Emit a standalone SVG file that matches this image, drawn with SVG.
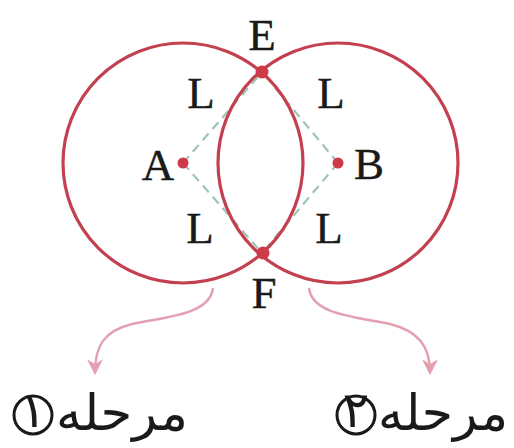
<svg xmlns="http://www.w3.org/2000/svg" width="514" height="448" viewBox="0 0 514 448">
<style>
.circ{fill:none;stroke:#c2404f;stroke-width:3.2}
.dash{stroke:#9fc4b4;stroke-width:2.2;stroke-dasharray:9 6;fill:none}
.pt{fill:#cf3a48}
.lbl{font-family:"Liberation Serif","Times New Roman",serif;font-size:45px;fill:#1a1a1a;stroke:#1a1a1a;stroke-width:0.4;text-anchor:middle}
.arr{fill:none;stroke:#e3a0b1;stroke-width:2.4}
.fa{font-family:"DejaVu Sans","Noto Sans",sans-serif;font-size:50px;fill:#1a1a1a}
.num{fill:none;stroke:#1a1a1a;stroke-width:3}
</style>
<defs>
<marker id="ah" viewBox="0 0 10 10" refX="8" refY="5" markerWidth="20" markerHeight="16" orient="auto" markerUnits="userSpaceOnUse">
<path d="M0,0 L10,5 L0,10 L3,5 Z" fill="#e3a0b1"/>
</marker>
</defs>
<rect width="514" height="448" fill="#ffffff"/>
<g id="connectors">
<line class="dash" x1="183" y1="163" x2="262" y2="72"/>
<line class="dash" x1="183" y1="163" x2="262" y2="253"/>
<line class="dash" x1="338" y1="163" x2="262" y2="72"/>
<line class="dash" x1="338" y1="163" x2="262" y2="253"/>
<path class="arr" d="M213,288 C210,315 165,317 132,324 C104,331 95,346 95,372" marker-end="url(#ah)"/>
<path class="arr" d="M309,288 C312,315 357,317 390,324 C418,331 430,346 430,372" marker-end="url(#ah)"/>
</g>
<g id="circleA"><circle class="circ" cx="183" cy="163" r="120"/></g>
<g id="circleB"><circle class="circ" cx="338" cy="163" r="120"/></g>
<g id="nodeA"><circle class="pt" cx="183" cy="163" r="5.5"/><text class="lbl" x="158" y="180">A</text></g>
<g id="nodeB"><circle class="pt" cx="338" cy="163" r="5.5"/><text class="lbl" x="369" y="179">B</text></g>
<g id="nodeE"><circle class="pt" cx="262" cy="72" r="6.5"/><text class="lbl" x="262" y="50">E</text></g>
<g id="nodeF"><circle class="pt" cx="263" cy="253" r="6.5"/><text class="lbl" x="264" y="308">F</text></g>
<g id="labelsL">
<text class="lbl" x="201" y="108">L</text>
<text class="lbl" x="331" y="108">L</text>
<text class="lbl" x="200" y="243">L</text>
<text class="lbl" x="329" y="243">L</text>
</g>
<g id="step1">
<circle class="num" cx="33" cy="415" r="19"/>
<text class="fa" x="33" y="427" text-anchor="middle" font-size="32">۱</text>
<text class="fa" x="188" y="430" text-anchor="end" textLength="132" lengthAdjust="spacingAndGlyphs">مرحله</text>
</g>
<g id="step2">
<circle class="num" cx="356" cy="415" r="19"/>
<text class="fa" x="356" y="427" text-anchor="middle" font-size="32">۲</text>
<text class="fa" x="508" y="430" text-anchor="end" textLength="130" lengthAdjust="spacingAndGlyphs">مرحله</text>
</g>
</svg>
